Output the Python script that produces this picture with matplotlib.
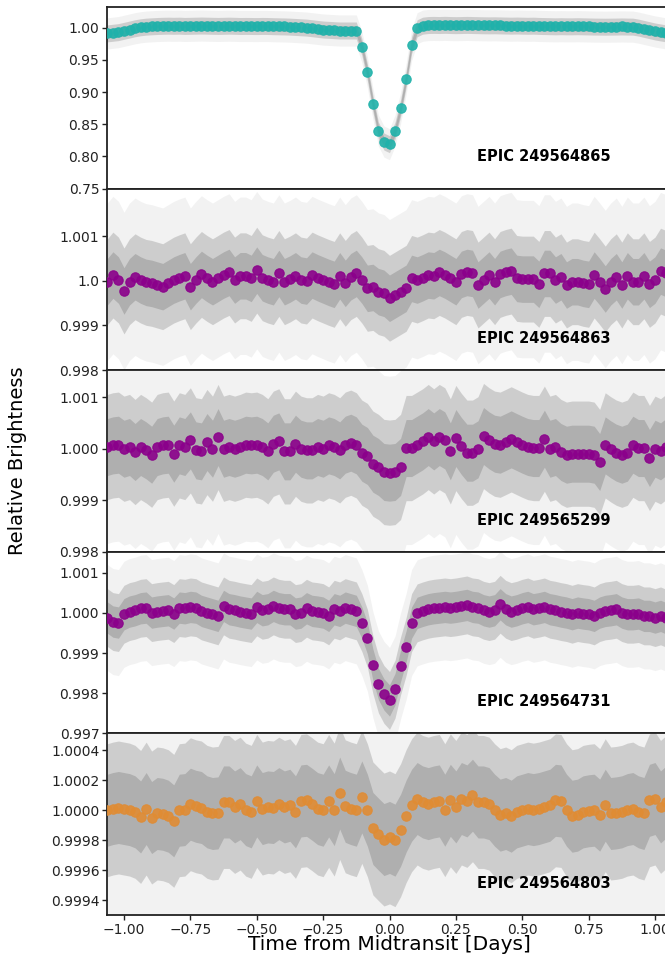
import numpy as np
import matplotlib
matplotlib.use("Agg")
from matplotlib import pyplot as plt

# 30-minute bin centres, in days from midtransit
BIN_DAYS = 1 / 48
bin_index = np.arange(-51, 52)
bin_time = bin_index * BIN_DAYS

names = ["EPIC 249564865", "EPIC 249564863", "EPIC 249565299",
         "EPIC 249564731", "EPIC 249564803"]
colors = ["#20b2aa", "#8b008b", "#8b008b", "#8b008b", "#e08c34"]

# binned relative brightness, as deviation from 1
# panel 1 in parts per thousand, the others in ppm
binned_865_ppt = [
    -9, -8, -7, -5, -3, -1, 0.5, 1.5, 2, 2.5, 2.8, 3, 2.8, 3, 2.6, 2.8, 3, 3.2,
    3, 2.8, 2.6, 2.8, 3, 2.8, 2.5, 2.6, 2.5, 2.4, 2.6, 2.5, 2.2, 2, 1.8, 1.5, 1,
    0.5, 0, -1, -2, -3, -3.5, -4, -4.5, -4.5, -4.5, -4.5, -30, -69, -118, -160,
    -177, -181, -160, -125, -80, -27, -1, 3, 4, 4.2, 4, 4.3, 4, 3.8, 4, 4.2, 4,
    3.8, 3.6, 3.5, 3.6, 3.4, 3.2, 3, 3.2, 3, 2.8, 3, 2.6, 2.4, 2.2, 2, 2.2, 2,
    2, 2.2, 2, 1.8, 1.6, 1.5, 1.4, 1.5, 1.6, 1.8, 1.6, 1.5, 0, -2, -4, -6,
    -7.5, -9, -9,
]
binned_863_ppm = [
    -22, 127, 15, -229, -22, 89, 15, -37, -59, -96, -133, -59, 15, 67, 111,
    -133, 15, 141, 52, -22, 52, 127, 185, 15, 111, 111, 52, 237, 67, 15, -22,
    163, -22, 37, 111, 15, -7, 127, 67, 15, -37, -81,
    111, -59, 89, 163, 15, -170, -150, -244, -281, -392, -318, -244, -170, 52,
    15, 67, 127, 111, 185, 127, 52, -22, 141, 185, 163, -96, 15, 127, -22, 141,
    185, 215, 52, 37, 37, 37, -81, 163, 163, 15, 89, -96, -22, -22, -59, -81,
    127, -22, -185, -22, 89, -96, 111, -22, -22, 111, -81, 15, 215, 163, 52,
]
binned_299_ppm = [
    31, 63, 76, -2, 31, -66, 31, -34, -118, 31, 63, 76, -98, 63, 31, 160, -34,
    -53, 127, -2, 224, -2, 31, -2, 31, 76, 63, 76, 31, -53, 95, 140, -53, -53,
    95, -2, -34, -34, 31, -2, 63, 31,
    -34, 76, 115, 63, -79, -143, -292, -356, -453, -466, -453, -356, 11, 11, 76,
    140, 224, 140, 224, 160, -53, 205, 50, -79, -79, -14, 244, 160, 95, 76, 127,
    179, 127, 76, 31, 11, 11, 192, -2, 31, -66, -118, -98, -98, -98, -98, -118,
    -260, 63, -14, -79, -118, -79, 76, 11, 11, -182, -2, -53, 31, 31,
]
binned_731_ppm = [
    -117, -216, -241, -34, 32, 65, 115, 131, 7, 32, 49, 65, -17, 131, 115, 148,
    131, 49, 7, -34, -75, 173, 90, 65, 32, 7, -17, 148, 65, 90, 173, 115, 90,
    90, -17, 7, 115, 49, 32, 7, -75, 90,
    49, 131, 90, 49, -240, -630, -1290, -1770, -2030, -2180, -1900, -1320,
    -840, -240, 0, 49, 90, 115, 131, 148, 131, 148, 173, 198, 148, 131, 65, 32,
    65, 214, 90, 32, 65, 115, 148, 90, 115, 148, 90, 65, 32, 7, -34, 7, -17,
    -34, -75, 7, 49, 65, 90, 7, -34, -34, -17, -75, -75, -117, -75, -133, -158,
]
binned_803_ppm = [
    0, 11, 18, 11, 4, -11, -45, 11, -49, -22, -27, -40, -71, 0, 4, 40, 26, 18,
    -11, -22, -18, 55, 55, 22, 44, 4, -11, 62, 11, 22, 18, 44, 22, 33, -11, 62,
    66, 40, 11, 0, 62, 4,
    115, 26, 11, 0, 89, 0, -122, -160, -196, -182, -200, -134, -40, 33, 78, 55,
    44, 55, 62, 0, 66, 22, 78, 62, 100, 55, 55, 44, 0, -33, -22, -40, -11, 0,
    11, 4, 11, 22, 33, 66, 62, 0, -40, -33, -11, -4, 0, -33, 33, -22, -18, -11,
    4, 11, -11, -22, 66, 78, 22, 55, 44,
]

# typical scatter of the unbinned points (half-width of the dense cloud)
cloud_halfwidth = [0.011, 0.0008, 0.00085, 0.0006, 0.00037]

y_limits = [(0.75, 1.032), (0.998, 1.00206), (0.998, 1.00152),
            (0.997, 1.00152), (0.9993, 1.000513)]
y_ticks = [
    [0.75, 0.80, 0.85, 0.90, 0.95, 1.00],
    [0.998, 0.999, 1.0, 1.001],
    [0.998, 0.999, 1.000, 1.001],
    [0.997, 0.998, 0.999, 1.000, 1.001],
    [0.9994, 0.9996, 0.9998, 1.0000, 1.0002, 1.0004],
]
y_ticklabels = [
    ["0.75", "0.80", "0.85", "0.90", "0.95", "1.00"],
    ["0.998", "0.999", "1.0", "1.001"],
    ["0.998", "0.999", "1.000", "1.001"],
    ["0.997", "0.998", "0.999", "1.000", "1.001"],
    ["0.9994", "0.9996", "0.9998", "1.0000", "1.0002", "1.0004"],
]
x_ticks = [-1.00, -0.75, -0.50, -0.25, 0.00, 0.25, 0.50, 0.75, 1.00]

binned = [
    1 + np.array(binned_865_ppt) * 1e-3,
    1 + np.array(binned_863_ppm) * 1e-6,
    1 + np.array(binned_299_ppm) * 1e-6,
    1 + np.array(binned_731_ppm) * 1e-6,
    1 + np.array(binned_803_ppm) * 1e-6,
]

plt.rcParams.update({"font.family": "DejaVu Sans", "font.size": 10})

fig = plt.figure(figsize=(6.65, 9.57), dpi=100)
left, width = 107 / 665, 565 / 665
panel_h = 181.6 / 957
bottom0 = 1 - 915 / 957

grey = "#aaaaaa"
axes = []
for i in range(5):
    bottom = bottom0 + (4 - i) * panel_h
    ax = fig.add_axes([left, bottom, width, panel_h])
    axes.append(ax)
    flux = binned[i]
    w = cloud_halfwidth[i]
    # unbinned cloud drawn as layered bands around the binned curve
    ax.fill_between(bin_time, flux - 2.2 * w, flux + 2.2 * w,
                    color=grey, alpha=0.15, lw=0, zorder=1)
    ax.fill_between(bin_time, flux - 1.2 * w, flux + 1.2 * w,
                    color=grey, alpha=0.5, lw=0, zorder=1)
    ax.fill_between(bin_time, flux - 0.65 * w, flux + 0.65 * w,
                    color=grey, alpha=0.85, lw=0, zorder=1)
    ax.scatter(bin_time, flux, s=46, color=colors[i], alpha=0.9,
               edgecolors=colors[i], linewidths=0.8, zorder=3)
    ax.set_xlim(-1.064, 1.064)
    ax.set_ylim(*y_limits[i])
    ax.set_yticks(y_ticks[i])
    ax.set_yticklabels(y_ticklabels[i])
    ax.set_xticks(x_ticks)
    ax.tick_params(labelsize=10, direction="out", length=3.5, width=1,
                   pad=2, colors="#222222")
    for sp in ax.spines.values():
        sp.set_linewidth(1.3)
        sp.set_color("#222222")
    if i < 4:
        ax.tick_params(labelbottom=False)
    ax.text(0.654, 0.175, names[i], transform=ax.transAxes, ha="left",
            va="center", fontsize=10.5, fontweight="bold", zorder=5)

axes[-1].set_xticklabels([f"{t:.2f}".replace("-", "\u2212") for t in x_ticks])
axes[-1].set_xlabel("Time from Midtransit [Days]", fontsize=14.5, labelpad=-1)
fig.text(0.027, 0.519, "Relative Brightness", rotation=90, ha="center",
         va="center", fontsize=14)

fig.savefig("out.png", dpi=100)
